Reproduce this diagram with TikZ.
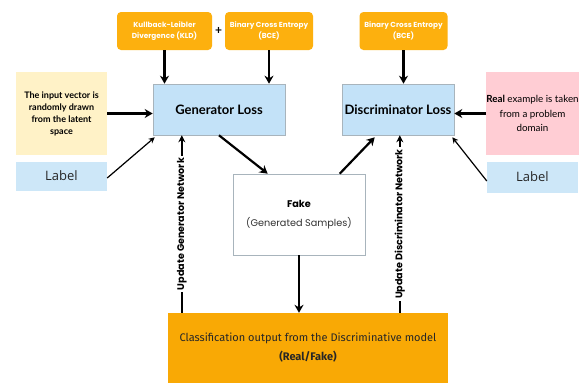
\documentclass[tikz,border=0pt]{standalone}
\usepackage{fontspec}
\usetikzlibrary{arrows.meta,calc}
\setmainfont{Lato}
\newfontfamily\pop{Poppins}
\newfontfamily\fira{Fira Sans}
\newfontfamily\opn{Open Sans}
\definecolor{orng}{HTML}{FDB00E}
\definecolor{orngdeep}{HTML}{F9A905}
\definecolor{lblue}{HTML}{C3E2F8}
\definecolor{lbluelab}{HTML}{CDE7F8}
\definecolor{lyellow}{HTML}{FFF2C7}
\definecolor{lpink}{HTML}{FFCDD4}
\definecolor{boxedge}{HTML}{A8B4BC}
\tikzset{
  lossbox/.style={fill=lblue, draw=boxedge, line width=0.6pt, inner sep=0pt,
    font=\bfseries\fontsize{13}{15}\selectfont},
  topbox/.style={fill=orng, rounded corners=4pt, inner sep=0pt, text=white,
    align=center, font=\pop\bfseries\fontsize{7.3}{11}\selectfont},
  notebox/.style={inner sep=0pt, align=center, font=\fontsize{9}{12}\selectfont},
  labbox/.style={fill=lbluelab, inner sep=0pt, font=\opn\fontsize{13}{15}\selectfont,
    text=black!85},
  bigarrow/.style={line width=2.2pt, -{Stealth[length=8pt,width=9pt]}},
  thinarrow/.style={line width=1.2pt, -{Stealth[length=6pt,width=6pt]}},
  updline/.style={line width=2pt, -{Stealth[length=7pt,width=7pt]}},
  updtext/.style={fill=white, rotate=90, inner sep=2pt,
    font=\pop\bfseries\fontsize{9.6}{10}\selectfont}
}
\begin{document}
\begin{tikzpicture}[x=1pt,y=-1pt]
\useasboundingbox[fill=white] (0,0) rectangle (582,383);

% loss terms on top
\node[topbox, minimum width=95pt, minimum height=38pt] (kld) at (164.5,31)
  {Kullback-Leibler\\Divergence (KLD)};
\node[font=\bfseries\fontsize{12}{12}\selectfont] (plus) at (218.5,31) {+};
\node[topbox, minimum width=88pt, minimum height=38pt] (bce1) at (269,31)
  {Binary Cross Entropy\\(BCE)};
\node[topbox, minimum width=88pt, minimum height=38pt] (bce2) at (403.5,31)
  {Binary Cross Entropy\\(BCE)};

% losses
\node[lossbox, minimum width=132pt, minimum height=51pt] (gen) at (219,109.5) {Generator Loss};
\node[lossbox, minimum width=112pt, minimum height=51pt] (disc) at (398,109.5) {Discriminator Loss};

% inputs
\node[notebox, fill=lyellow, minimum width=91pt, minimum height=83pt] (input) at (61.5,113.5)
  {\bfseries The input vector is\\\bfseries randomly drawn\\\bfseries from the latent\\\bfseries space};
\node[labbox, minimum width=91pt, minimum height=29pt] (labl) at (61.5,176) {Label};
\node[notebox, fill=lpink, minimum width=91pt, minimum height=83pt,
  font=\fontsize{9.8}{14.5}\selectfont] (real) at (532.5,113.5)
  {\textbf{Real} example is taken\\from a problem\\domain};
\node[labbox, minimum width=91pt, minimum height=31pt] (labr) at (532.5,177) {Label};

% generated samples
\node[draw=boxedge, line width=0.6pt, fill=white, minimum width=132pt, minimum height=81pt,
  inner sep=0pt, align=center, font=\pop\fontsize{9.7}{19}\selectfont] (fake) at (299,214.5)
  {\bfseries Fake\\ \pop\fontsize{9.7}{19}\selectfont\color{black!80}(Generated Samples)};

% classifier output
\node[fill=orngdeep, minimum width=280pt, minimum height=70pt, inner sep=0pt, align=center,
  font=\fira\fontsize{11}{19}\selectfont, text=black!85] (cls) at (308,348)
  {Classification output from the Discriminative model\\\textbf{(Real/Fake)}};

% arrows into the losses
\draw[bigarrow] (kld.south) -- (kld.south |- gen.north);
\draw[bigarrow] (bce1.south) -- (bce1.south |- gen.north);
\draw[bigarrow] (bce2.south) -- (bce2.south |- disc.north);
\draw[bigarrow] (input.east) -- (input.east -| gen.west);
\draw[bigarrow] (real.west) -- (real.west -| disc.east);
\draw[thinarrow] ($(labl.east)+(0,2)$) -- ($(gen.south west)+(2,2)$);
\draw[thinarrow] ($(labr.west)+(0,4)$) -- ($(disc.south east)+(-2,2)$);

% generator to samples to discriminator
\draw[bigarrow] (gen.south) -- ($(fake.north west)+(35,0)$);
\draw[bigarrow] ($(fake.north west)+(107,0)$) -- ($(disc.south west)+(33,2)$);
\draw[bigarrow] (fake.south) -- (fake.south |- cls.north);

% feedback to the networks
\coordinate (ug) at ($(cls.north west)+(14,0)$);
\coordinate (ud) at ($(cls.north west)+(232,0)$);
\draw[updline] (ug) -- (ug |- gen.south)
  node[updtext, pos=0.5] {Update Generator Network};
\draw[updline] (ud) -- (ud |- disc.south)
  node[updtext, pos=0.5] {Update Discriminator Network};
\end{tikzpicture}
\end{document}
